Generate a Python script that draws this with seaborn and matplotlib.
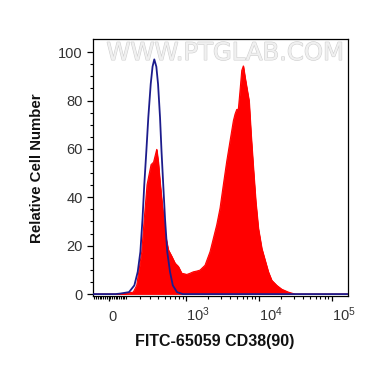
import matplotlib
matplotlib.use("Agg")
import matplotlib.pyplot as plt
import matplotlib.patheffects as pe
from matplotlib.ticker import FixedLocator, FixedFormatter, NullFormatter
import seaborn as sns

# CD38 stained sample (red, filled) - FITC intensity vs relative cell number
red_x = [-89, 60, 95, 151, 177, 219, 242, 269, 312, 341, 381, 403, 427, 452, 478,
         505, 564, 631, 702, 782, 872, 970, 1024, 1138, 1264, 1407, 1562, 1832,
         2147, 2384, 2653, 2945, 3270, 3640, 4041, 4485, 4732, 4991, 5251, 5537,
         5845, 6146, 6487, 6846, 7357, 7838, 8430, 9095, 9870, 10990, 12200,
         13530, 15050, 17630, 20650, 25440, 31410, 167000]
red_y = [0, 0, 0.3, 0.8, 3.6, 17.5, 31.3, 45.2, 53.5, 54.5, 59.8, 54.4, 46.1, 39.1, 32.2,
         25.2, 18.3, 15.6, 12.8, 11.4, 8.6, 8.3, 8.1, 8.6, 9.2, 9.5, 9.9, 11.9,
         17.5, 23.0, 28.6, 35.5, 45.2, 54.9, 63.3, 71.6, 74.4, 76.3, 76.4, 84.1,
         92.4, 94.3, 89.6, 85.4, 79.9, 66.0, 52.1, 38.3, 27.2, 18.9, 14.0,
         9.2, 5.7, 3.6, 2.0, 0.8, 0, 0]

# isotype control (blue outline)
blue_x = [-89, 40, 65, 121, 159, 185, 207, 226, 242, 262, 282, 308, 329, 350,
          376, 399, 427, 449, 476, 505, 544, 596, 653, 749, 900, 167000]
blue_y = [0, 0, 0.2, 0.8, 3.6, 9.2, 17.5, 31.3, 45.2, 59.1, 73.0, 86.8, 94.0, 97.0,
          94.0, 86.8, 73.0, 59.1, 45.2, 31.3, 17.5, 9.2, 3.6, 0.8, 0, 0]

x_ticks = [0, 1e3, 1e4, 1e5]
x_tick_labels = ["0", r"$\mathregular{10^{3}}$", r"$\mathregular{10^{4}}$", r"$\mathregular{10^{5}}$"]
x_minor = ([-v for v in range(10, 100, 10)] + list(range(10, 100, 10)) + list(range(100, 1000, 100))
           + list(range(2000, 10000, 1000)) + list(range(20000, 100000, 10000)))
y_ticks = [0, 20, 40, 60, 80, 100]

sns.set_theme(style="ticks")
plt.rcParams['font.family'] = ['Liberation Sans', 'DejaVu Sans']
plt.rcParams['mathtext.fontset'] = 'custom'
plt.rcParams['mathtext.rm'] = 'Liberation Sans'
plt.rcParams['mathtext.it'] = 'Liberation Sans:italic'
plt.rcParams['mathtext.bf'] = 'Liberation Sans:bold'

fig = plt.figure(figsize=(3.70, 3.67), dpi=100)
ax = fig.add_axes([0.2514, 0.1921, 0.6892, 0.7008])
ax.set_xscale('asinh', linear_width=175)

ax.fill_between(red_x, red_y, 0, facecolor='#ff0000', edgecolor='#ff0000',
                linewidth=0.6, zorder=2)
sns.lineplot(x=red_x, y=red_y, color='#ff0000', lw=0.8, ax=ax, zorder=2)
sns.lineplot(x=blue_x, y=blue_y, color='#1c1c8c', lw=1.3, ax=ax, zorder=3)

ax.set_xlim(-89, 167000)
ax.set_ylim(-1.0, 105.3)

ax.xaxis.set_major_locator(FixedLocator(x_ticks))
ax.xaxis.set_major_formatter(FixedFormatter(x_tick_labels))
ax.xaxis.set_minor_locator(FixedLocator(x_minor))
ax.xaxis.set_minor_formatter(NullFormatter())
ax.yaxis.set_major_locator(FixedLocator(y_ticks))
ax.yaxis.set_minor_locator(FixedLocator(list(range(0, 105, 5))))

for s in ax.spines.values():
    s.set_visible(True)
    s.set_linewidth(0.9)
    s.set_color('black')

ax.tick_params(axis='x', which='major', length=3.6, width=0.9, pad=14.4,
               labelsize=10.5, labelcolor='#333333', color='black')
ax.tick_params(axis='x', which='minor', length=1.8, width=0.8, color='black')
ax.tick_params(axis='y', which='major', length=4.3, width=0.9, pad=3.2,
               labelsize=10.5, labelcolor='#333333', color='black')
ax.tick_params(axis='y', which='minor', length=2.2, width=0.8, color='black')

plt.setp(ax.get_xticklabels(), va='baseline', ha='left')

ax.set_xlabel("FITC-65059 CD38(90)", fontsize=11.5, fontweight='bold', color='#111111')
ax.set_ylabel("Relative Cell Number", fontsize=10.8, fontweight='bold', color='#111111')
ax.xaxis.set_label_coords(0.478, -0.146)
ax.yaxis.set_label_coords(-0.192, 0.5)

# watermark
ax.text(0.518, 0.947, "WWW.PTGLAB.COM", transform=ax.transAxes, ha='center', va='center',
        fontsize=17.5, family='DejaVu Sans', color='#f0f0f0', zorder=1,
        path_effects=[pe.withStroke(linewidth=0.8, foreground='#cfcfcf')])

fig.savefig("out.png", dpi=100)
